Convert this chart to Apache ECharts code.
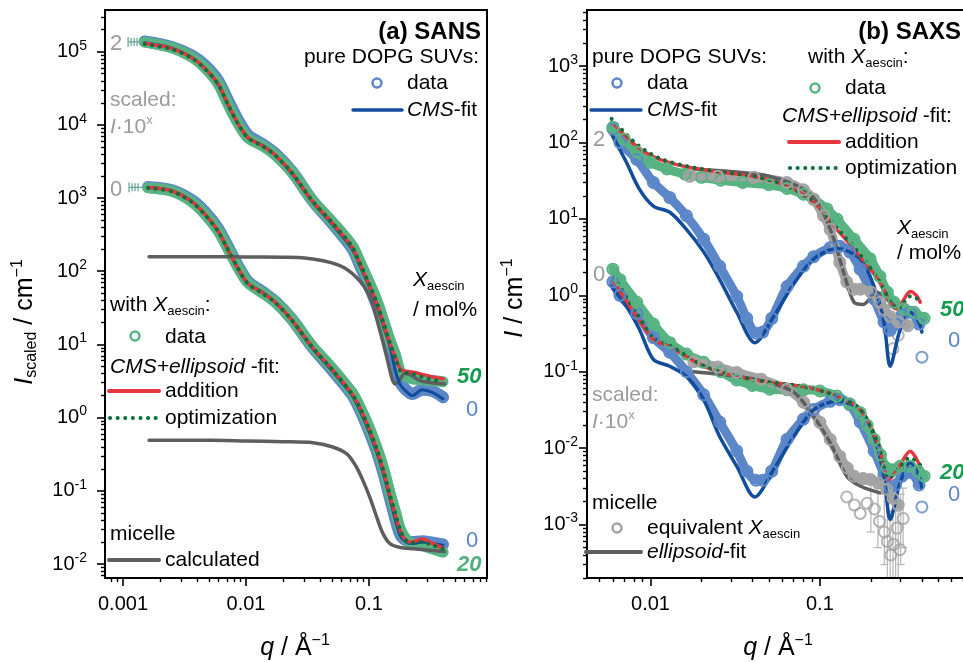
<!DOCTYPE html>
<html><head><meta charset="utf-8">
<script src="https://cdn.jsdelivr.net/npm/echarts@6/dist/echarts.min.js"></script>
<style>html,body{margin:0;padding:0;background:#fff}#c{width:963px;height:662px}</style>
</head><body><div id="c"></div>
<script>
// ---------------- tick labels ----------------
const xMajorA = [0.001, 0.01, 0.1];
const xLabelsA = ['0.001', '0.01', '0.1'];
const yMajorA = [1e-2, 1e-1, 1, 10, 100, 1e3, 1e4, 1e5];
const yExpA = ['-2', '-1', '0', '1', '2', '3', '4', '5'];
const xMajorB = [0.01, 0.1];
const xLabelsB = ['0.01', '0.1'];
const yMajorB = [1e-3, 1e-2, 1e-1, 1, 10, 100, 1e3];
const yExpB = ['-3', '-2', '-1', '0', '1', '2', '3'];

// ---------------- (a) SANS ----------------
const aQ   = [0.0015,0.0025,0.0036,0.0046,0.0059,0.0071,0.0086,0.0104,0.0135,0.0172,0.0237,0.0344,0.050,0.073,0.0845,0.100,0.116,0.133,0.148,0.165,0.180,0.200,0.225,0.27,0.33,0.40];
const aQLo = [0.0016,0.0025,0.0036,0.0046,0.0059,0.0071,0.0086,0.0104,0.0135,0.0172,0.0237,0.0344,0.050,0.073,0.0845,0.100,0.116,0.133,0.148,0.165,0.180,0.200,0.225,0.27,0.33,0.40];
const aUpBlueData  = [1.38e5,1.16e5,8.9e4,6.6e4,4.1e4,2.2e4,1.17e4,7.2e3,5.5e3,4.1e3,2.3e3,940,455,205,120,63,34,17,9.5,4.5,3.0,2.4,2.1,2.4,2.3,1.9];
const aUpGreenData = [1.35e5,1.13e5,8.5e4,6.1e4,3.7e4,1.95e4,1.05e4,6.6e3,5.2e3,3.9e3,2.25e3,950,480,225,135,72,40,20,11.5,7.0,4.2,3.6,3.4,3.3,3.2,3.1];
const aUpBlueFit   = [1.32e5,1.12e5,8.4e4,6.0e4,3.6e4,1.9e4,1.03e4,6.6e3,5.3e3,3.9e3,2.15e3,900,440,200,118,62,33,16.5,9.3,4.2,2.8,2.3,2.0,2.4,2.2,1.8];
const aUpRed       = [1.3e5,1.1e5,8.3e4,6.0e4,3.7e4,1.95e4,1.05e4,6.7e3,5.2e3,3.9e3,2.2e3,920,460,213,126,66,36,18,10.3,6.5,4.6,4.3,4.2,3.9,3.6,3.4];
const aUpDot       = [1.27e5,1.08e5,8.2e4,5.9e4,3.65e4,1.93e4,1.04e4,6.6e3,5.15e3,3.85e3,2.2e3,930,465,216,128,68,37,18.5,10.5,6.3,4.3,4.1,4.0,3.6,3.3,3.1];
const aLoBlueData  = [1420,1280,950,660,390,220,119,72,53,39,22,9.3,4.5,2.05,1.28,0.66,0.34,0.16,0.08,0.04,0.025,0.021,0.020,0.0205,0.0195,0.0185];
const aLoGreenData = [1380,1240,900,610,360,205,113,69,51,38,22,9.6,4.8,2.2,1.4,0.75,0.39,0.19,0.095,0.05,0.03,0.022,0.019,0.018,0.016,0.0145];
const aLoBlueFit   = [1400,1260,910,610,355,198,108,67,52,38,21,9.0,4.4,2.0,1.25,0.65,0.33,0.155,0.078,0.038,0.024,0.020,0.019,0.020,0.019,0.018];
const aLoRed       = [1390,1250,900,610,360,200,110,68,51,38,21.5,9.3,4.6,2.1,1.35,0.70,0.36,0.17,0.085,0.045,0.028,0.021,0.020,0.022,0.019,0.0165];
const aLoDot       = [1370,1230,890,600,355,200,110,67,50,37.5,21.3,9.3,4.6,2.1,1.36,0.71,0.37,0.175,0.088,0.047,0.029,0.021,0.0195,0.020,0.018,0.016];
const aUpMicQ = [0.00163,0.005,0.01,0.02,0.03,0.056,0.080,0.102,0.122,0.140,0.154,0.163,0.18,0.195,0.22,0.26,0.32,0.41];
const aUpMic  = [158,158,157,155,152,122,81,44,16,6.5,3.4,2.9,3.4,4.0,3.8,3.2,3.0,2.9];
const aLoMicQ = [0.00163,0.005,0.01,0.02,0.035,0.05,0.066,0.078,0.089,0.102,0.116,0.13,0.148,0.18,0.23,0.41];
const aLoMic  = [0.49,0.49,0.48,0.47,0.455,0.40,0.32,0.22,0.14,0.08,0.043,0.026,0.019,0.0168,0.0162,0.0148];
// horizontal error bars of the first SANS points
const aErrQLo = [0.00110, 0.00112];
const aErrQHi = [0.0021, 0.0021];
const aErrI   = [1.36e5, 1400];

// ---------------- (b) SAXS ----------------
const bFitQ = [0.00588,0.00721,0.0086,0.0104,0.013,0.0163,0.0206,0.0256,0.0323,0.0413,0.0534,0.0702,0.092,0.126,0.173,0.209,0.239,0.26,0.297,0.341,0.385,0.40];
const bUpBlueFit = [129,55,24.5,14.7,12.2,7.3,3.7,1.62,0.60,0.24,0.53,1.42,3.0,4.1,3.0,1.3,0.44,0.118,0.35,0.60,0.44,0.33];
const bLoBlueFit = [1.31,0.72,0.36,0.145,0.118,0.087,0.043,0.0142,0.0058,0.0023,0.0053,0.0142,0.032,0.041,0.032,0.0142,0.0043,0.00117,0.0035,0.0065,0.0043,0.003];
const bDataQ = [0.006,0.0066,0.0083,0.0104,0.013,0.0163,0.0206,0.0256,0.0323,0.037,0.042,0.046,0.052,0.064,0.080,0.092,0.115,0.131,0.150,0.173,0.209,0.239,0.26,0.28,0.305,0.341,0.385];
const bUpBlueData = [150,100,60,30,19,11,5.4,2.4,0.97,0.5,0.32,0.33,0.5,1.3,2.4,3.2,4.2,4.4,3.7,2.2,0.9,0.45,0.35,0.42,0.55,0.6,0.42];
const bLoBlueData = [1.5,1.0,0.58,0.28,0.18,0.10,0.05,0.022,0.0092,0.005,0.0038,0.0038,0.005,0.013,0.024,0.032,0.041,0.043,0.037,0.022,0.0092,0.0045,0.003,0.0033,0.0043,0.0048,0.0033];
const bGreenUpQ = [0.006,0.007,0.0083,0.010,0.0125,0.016,0.020,0.026,0.035,0.050,0.064,0.080,0.092,0.110,0.126,0.159,0.198,0.226,0.25,0.274,0.314,0.36,0.412];
const bUpGreenData = [158,110,75,55,45,38.5,35,32,30,28,25,21,18,13.5,9.9,5.4,3.0,1.77,1.1,0.81,0.66,0.6,0.5];
const bGreenLoQ = [0.006,0.0066,0.0083,0.0104,0.013,0.0163,0.0206,0.026,0.0323,0.040,0.0506,0.064,0.080,0.100,0.126,0.15,0.173,0.19,0.209,0.228,0.248,0.27,0.297,0.34,0.38,0.412];
const bLoGreenData = [2.2,1.6,0.81,0.42,0.24,0.17,0.133,0.1,0.078,0.066,0.059,0.058,0.058,0.056,0.048,0.038,0.029,0.02,0.013,0.0082,0.0055,0.0052,0.0058,0.0058,0.005,0.0043];
const bRedUpQ = [0.0059,0.0083,0.0113,0.0163,0.0256,0.0407,0.0638,0.092,0.126,0.173,0.226,0.267,0.286,0.31,0.341,0.37,0.391];
const bUpRed  = [185,89,60,48,41,36,27,16.5,7.3,3.24,1.48,0.72,0.66,0.85,1.12,1.0,0.81];
const bUpDot  = [204,95,62,49,41.5,36,27,16.5,7.6,3.4,1.5,0.75,0.65,0.78,0.97,0.92,0.8];
const bRedLoQ = [0.0061,0.0083,0.0104,0.013,0.0206,0.0323,0.0506,0.080,0.126,0.173,0.218,0.245,0.255,0.29,0.341,0.391];
const bLoRed  = [1.48,0.53,0.265,0.214,0.118,0.087,0.072,0.064,0.048,0.032,0.012,0.0045,0.0039,0.0055,0.0091,0.0058];
const bLoDot  = [1.72,0.58,0.28,0.22,0.12,0.088,0.073,0.064,0.048,0.032,0.012,0.0046,0.0041,0.0053,0.0075,0.006];
const bGrayUpQ = [0.017,0.025,0.0407,0.0638,0.080,0.092,0.105,0.115,0.131,0.144,0.159,0.173,0.20,0.226,0.239,0.26,0.29,0.33];
const bUpGrayData = [36,36,35,30,24,18,11,7.3,2.7,1.5,1.2,1.2,1.1,0.81,0.65,0.53,0.45,0.4];
const bGrayLoQ = [0.018,0.025,0.0323,0.045,0.0638,0.080,0.1,0.115,0.131,0.145,0.159,0.18,0.198,0.22,0.248,0.27,0.29];
const bLoGrayData = [0.135,0.115,0.098,0.08,0.059,0.04,0.0218,0.013,0.0078,0.0055,0.0043,0.004,0.0039,0.0035,0.0029,0.0022,0.0018];
const bMicFitUpQ = [0.0179,0.0323,0.0506,0.080,0.0998,0.121,0.138,0.159,0.18,0.217,0.248,0.278];
const bUpMicFit  = [45,41,36,24.5,14.7,5.4,2.0,0.81,0.76,1.1,0.89,0.72];
const bMicFitLoQ = [0.018,0.0323,0.050,0.0702,0.092,0.115,0.144,0.173,0.226];
const bLoMicFit  = [0.10,0.087,0.072,0.054,0.026,0.0118,0.0043,0.0032,0.0026];
const bGrayScatQ = [0.144,0.16,0.173,0.19,0.21,0.225,0.24,0.25,0.262,0.272,0.285,0.297,0.31];
const bGrayScatI = [0.0023,0.0018,0.0014,0.0019,0.0016,0.0011,0.0008,0.0006,0.0004,0.00055,0.0009,0.00047,0.0012];
const bGrayScatUpQ = [0.24,0.255,0.27,0.29,0.31];
const bGrayScatUpI = [0.5,0.35,0.2,0.3,0.45];
const bErrQ  = [0.2,0.22,0.24,0.25,0.26,0.27,0.28,0.29,0.3,0.31];
const bErrLo = [0.0008,0.0005,0.0003,0.0002,0.0002,0.0002,0.0002,0.0002,0.0003,0.0005];
const bErrHi = [0.004,0.003,0.0025,0.002,0.0015,0.0015,0.002,0.002,0.0025,0.003];
const bBlueOutQ = [0.40, 0.40];
const bBlueOutI = [0.155, 0.0017];

// ---------------- styling ----------------
const FONT = '"Liberation Sans", Arial, sans-serif';
const C = {blueData:'#5b87c9', blueFit:'#124c9c', greenData:'#57b381', red:'#e6373f', greenDot:'#0b6e3b',
           grayLine:'#5e5e5e', grayData:'#a3a3a3', txtGray:'#9b9b9b', green:'#179b51', greenLight:'#52b07e'};

const P = (q, I) => q.map((x, i) => [x, I[i]]);
function band(q, I, color, g, width, circles) {
  return {type:'line', xAxisIndex:g*2, yAxisIndex:g*2, data:P(q, I), smooth:0.3, silent:true,
    lineStyle:{color, width, cap:'round', join:'round'},
    showSymbol:!!circles, showAllSymbol:true, symbol:'circle', symbolSize:circles || 0,
    itemStyle:{color:'rgba(0,0,0,0)', borderColor:color, borderWidth:2}};
}
function curve(q, I, color, g, width, dotted) {
  return {type:'line', xAxisIndex:g*2, yAxisIndex:g*2, data:P(q, I), smooth:0.3, silent:true,
    showSymbol:false, symbol:'none',
    lineStyle:{color, width, type:dotted ? [0.1, 7.5] : 'solid', cap:'round', join:'round'}};
}
function scat(q, I, color, g, size) {
  return {type:'scatter', xAxisIndex:g*2, yAxisIndex:g*2, data:P(q, I), symbol:'circle', symbolSize:size, silent:true,
    itemStyle:{color:'rgba(0,0,0,0)', borderColor:color, borderWidth:2}};
}
function minorTicks(lo, hi) {
  const out = [];
  for (let e = Math.floor(Math.log10(lo)); e <= Math.ceil(Math.log10(hi)); e++)
    for (let m = 2; m <= 9; m++) { const v = +(m * Math.pow(10, e)).toPrecision(6); if (v >= lo && v <= hi) out.push(v); }
  return out;
}
const near = (a, b) => Math.abs(Math.log10(a) - Math.log10(b)) < 1e-6;
const supFmt = (majors, exps) => v => { const i = majors.findIndex(t => near(t, v)); return i < 0 ? '' : '10{s|' + exps[i] + '}'; };
const txtFmt = (majors, labels) => v => { const i = majors.findIndex(t => near(t, v)); return i < 0 ? '' : labels[i]; };

function majorAxis(dim, g, min, max, ticks, fmt, margin) {
  return {type:'log', logBase:10, gridIndex:g, min, max, position:dim === 'x' ? 'bottom' : 'left',
    axisLine:{show:true, onZero:false, lineStyle:{color:'#000', width:2}},
    axisTick:{show:true, inside:false, length:8, customValues:ticks, lineStyle:{color:'#000', width:1.6}},
    axisLabel:{show:true, customValues:ticks, formatter:fmt, margin, fontSize:20, fontFamily:FONT, color:'#000',
      hideOverlap:false, showMinLabel:true, showMaxLabel:true,
      rich:{s:{fontSize:14, fontFamily:FONT, color:'#000', padding:[0, 0, 12, 0]}}},
    splitLine:{show:false}, minorTick:{show:false}, minorSplitLine:{show:false}, z:5};
}
function minorAxis(dim, g, min, max) {
  return {type:'log', logBase:10, gridIndex:g, min, max, position:dim === 'x' ? 'bottom' : 'left',
    axisLine:{show:false}, axisLabel:{show:false}, splitLine:{show:false},
    axisTick:{show:true, inside:false, length:4, customValues:minorTicks(min, max), lineStyle:{color:'#000', width:1.4}}, z:5};
}
const RA = {xmin:7.14e-4, xmax:0.911, ymin:6.44e-3, ymax:3.71e5};
const RB = {xmin:4.22e-3, xmax:0.7186, ymin:2.0e-4, ymax:5410};

// ---------------- text helpers ----------------
function rich(b) {
  const s = Math.round(b * 0.64);
  return {
    i:{fontSize:b, fontFamily:FONT, fontStyle:'italic'},
    b:{fontSize:b, fontFamily:FONT, fontWeight:'bold'},
    sub:{fontSize:s, fontFamily:FONT, padding:[Math.round(b * 0.55), 0, 0, 0]},
    sup:{fontSize:s, fontFamily:FONT, padding:[0, 0, Math.round(b * 0.6), 0]}
  };
}
function T(x, y, text, o) {
  o = o || {};
  const b = o.size || 21;
  const st = {text, fontSize:b, fontFamily:FONT, fill:o.color || '#000', align:o.align || 'left', verticalAlign:'middle',
              fontWeight:o.weight || 'normal', fontStyle:o.style || 'normal', rich:rich(b)};
  const el = {type:'text', x, y, silent:true, z:100, style:st};
  if (o.rot) el.rotation = o.rot;
  return el;
}
const circ = (cx, cy, color) => ({type:'circle', silent:true, z:100, shape:{cx, cy, r:4.5}, style:{fill:'none', stroke:color, lineWidth:2.5}});
const seg = (x1, x2, y, color, w, dotted) => ({type:'line', silent:true, z:100, shape:{x1, y1:y, x2, y2:y},
  style:{stroke:color, lineWidth:w, lineCap:'round', lineDash:dotted ? [0.1, 7.5] : null}});

const graphics = [
  // panel (a)
  T(481, 32, '(a) SANS', {size:24, weight:'bold', align:'right'}),
  T(479, 57, 'pure DOPG SUVs:', {align:'right'}),
  circ(377, 83, C.blueData), T(407, 83, 'data'),
  seg(353, 402, 110, C.blueFit, 3.5), T(407, 110, '{i|CMS}-fit'),
  T(110, 44, '2', {size:22, color:C.txtGray}),
  T(110, 190, '0', {size:22, color:C.txtGray}),
  T(110, 100, 'scaled:', {color:C.txtGray}),
  T(110, 127, '{i|I}·10{sup|x}', {color:C.txtGray}),
  T(110, 305, 'with {i|X}{sub|aescin}:'),
  circ(135, 336, C.greenData), T(165, 337, 'data'),
  T(110, 367, '{i|CMS+ellipsoid} -fit:'),
  seg(109, 159, 391, C.red, 4), T(165, 391, 'addition'),
  seg(110, 156, 418, C.greenDot, 4, true), T(165, 418, 'optimization'),
  T(110, 534, 'micelle'),
  seg(109, 159, 560, C.grayLine, 4), T(165, 560, 'calculated'),
  T(413, 280, '{i|X}{sub|aescin}'),
  T(413, 310, '/ mol%'),
  T(457, 377, '50', {size:22, weight:'bold', style:'italic', color:C.green}),
  T(466, 410, '0', {size:22, color:C.blueData}),
  T(466, 541, '0', {size:22, color:C.blueData}),
  T(457, 565, '20', {size:22, weight:'bold', style:'italic', color:C.greenLight}),
  // panel (b)
  T(961, 32, '(b) SAXS', {size:24, weight:'bold', align:'right'}),
  T(592, 57, 'pure DOPG SUVs:'),
  circ(617, 83, C.blueData), T(647, 83, 'data'),
  seg(591, 641, 110, C.blueFit, 3.5), T(647, 110, '{i|CMS}-fit'),
  T(808, 57, 'with {i|X}{sub|aescin}:'),
  circ(815, 88, C.greenData), T(845, 88, 'data'),
  T(782, 116, '{i|CMS+ellipsoid} -fit:'),
  seg(789, 839, 142, C.red, 4), T(845, 142, 'addition'),
  seg(790, 836, 168, C.greenDot, 4, true), T(845, 168, 'optimization'),
  T(897, 228, '{i|X}{sub|aescin}'),
  T(897, 253, '/ mol%'),
  T(940, 310, '50', {size:22, weight:'bold', style:'italic', color:C.green}),
  T(948, 341, '0', {size:22, color:C.blueData}),
  T(593, 140, '2', {size:22, color:C.txtGray}),
  T(593, 275, '0', {size:22, color:C.txtGray}),
  T(592, 395, 'scaled:', {color:C.txtGray}),
  T(592, 422, '{i|I}·10{sup|x}', {color:C.txtGray}),
  T(940, 473, '20', {size:22, weight:'bold', style:'italic', color:C.green}),
  T(948, 495, '0', {size:22, color:C.blueData}),
  T(592, 503, 'micelle'),
  circ(617, 528, C.grayData), T(647, 528, 'equivalent {i|X}{sub|aescin}'),
  seg(586, 641, 552, C.grayLine, 4), T(647, 552, '{i|ellipsoid}-fit'),
  // axis titles
  T(25, 322, '{i|I}{sub|scaled} / cm{sup|−1}', {size:25, align:'center', rot:Math.PI / 2}),
  T(515, 298, '{i|I} / cm{sup|−1}', {size:25, align:'center', rot:Math.PI / 2}),
  T(295, 648, '{i|q} / Å{sup|−1}', {size:25, align:'center'}),
  T(778, 648, '{i|q} / Å{sup|−1}', {size:25, align:'center'})
];

function hErr(g, color) {
  return {type:'custom', xAxisIndex:g*2, yAxisIndex:g*2, clip:true, silent:true,
   data:aErrQLo.map((q, i) => [q, aErrQHi[i], aErrI[i]]), encode:{x:[0, 1], y:2},
   renderItem:(params, api) => {
     const p1 = api.coord([api.value(0), api.value(2)]), p2 = api.coord([api.value(1), api.value(2)]);
     const st = {stroke:color, lineWidth:1.3};
     const kids = [{type:'line', shape:{x1:p1[0], y1:p1[1], x2:p2[0], y2:p2[1]}, style:st},
                   {type:'line', shape:{x1:p1[0], y1:p1[1] - 5, x2:p1[0], y2:p1[1] + 5}, style:st}];
     for (let k = 1; k <= 3; k++) { const xx = p1[0] + k * 3; kids.push({type:'line', shape:{x1:xx, y1:p1[1] - 4, x2:xx, y2:p1[1] + 4}, style:st}); }
     return {type:'group', children:kids};
   }};
}

const series = [
  hErr(0, '#6aaa96'),
  // (a) SANS upper (x10^2)
  band(aQ, aUpBlueData, C.blueData, 0, 12),
  band(aQ, aUpGreenData, C.greenData, 0, 11),
  // (a) lower (x10^0)
  band(aQLo, aLoBlueData, C.blueData, 0, 12),
  band(aQLo, aLoGreenData, C.greenData, 0, 11),
  curve(aUpMicQ, aUpMic, C.grayLine, 0, 3.5),
  curve(aLoMicQ, aLoMic, C.grayLine, 0, 3.5),
  curve(aQ, aUpBlueFit, C.blueFit, 0, 3),
  curve(aQLo, aLoBlueFit, C.blueFit, 0, 3),
  curve(aQ, aUpRed, C.red, 0, 3.5),
  curve(aQLo, aLoRed, C.red, 0, 3.5),
  curve(aQ, aUpDot, C.greenDot, 0, 4, true),
  curve(aQLo, aLoDot, C.greenDot, 0, 4, true),
  // (b) SAXS
  {type:'custom', xAxisIndex:2, yAxisIndex:2, clip:true, silent:true,
   data:bErrQ.map((q, i) => [q, bErrLo[i], bErrHi[i]]), encode:{x:0, y:[1, 2]},
   renderItem:(params, api) => {
     const q = api.value(0), p1 = api.coord([q, api.value(1)]), p2 = api.coord([q, api.value(2)]);
     const st = {stroke:'#b5b5b5', lineWidth:1.2};
     return {type:'group', children:[
       {type:'line', shape:{x1:p1[0], y1:p1[1], x2:p2[0], y2:p2[1]}, style:st},
       {type:'line', shape:{x1:p1[0] - 4, y1:p1[1], x2:p1[0] + 4, y2:p1[1]}, style:st},
       {type:'line', shape:{x1:p2[0] - 4, y1:p2[1], x2:p2[0] + 4, y2:p2[1]}, style:st}]};
   }},
  band(bDataQ, bUpBlueData, C.blueData, 1, 9, 11),
  band(bDataQ, bLoBlueData, C.blueData, 1, 9, 11),
  band(bGreenUpQ, bUpGreenData, C.greenData, 1, 9, 11),
  band(bGreenLoQ, bLoGreenData, C.greenData, 1, 9, 11),
  band(bGrayUpQ, bUpGrayData, C.grayData, 1, 9, 11),
  band(bGrayLoQ, bLoGrayData, C.grayData, 1, 9, 11),
  scat(bGrayScatQ, bGrayScatI, C.grayData, 1, 11),
  scat(bGrayScatUpQ, bGrayScatUpI, C.grayData, 1, 11),
  scat(bBlueOutQ, bBlueOutI, C.blueData, 1, 11),
  curve(bMicFitUpQ, bUpMicFit, C.grayLine, 1, 3.5),
  curve(bMicFitLoQ, bLoMicFit, C.grayLine, 1, 3.5),
  curve(bFitQ, bUpBlueFit, C.blueFit, 1, 3.5),
  curve(bFitQ, bLoBlueFit, C.blueFit, 1, 3.5),
  curve(bRedUpQ, bUpRed, C.red, 1, 3.5),
  curve(bRedLoQ, bLoRed, C.red, 1, 3.5),
  curve(bRedUpQ, bUpDot, C.greenDot, 1, 4, true),
  curve(bRedLoQ, bLoDot, C.greenDot, 1, 4, true)
];

const chart = echarts.init(document.getElementById('c'), null, {renderer:'canvas'});
chart.setOption({
  animation:false,
  backgroundColor:'#fff',
  grid:[
    {left:105, top:10, width:382, height:568, show:true, borderColor:'#000', borderWidth:2, backgroundColor:'rgba(0,0,0,0)', containLabel:false, outerBoundsMode:'none'},
    {left:587, top:10, width:378, height:568, show:true, borderColor:'#000', borderWidth:2, backgroundColor:'rgba(0,0,0,0)', containLabel:false, outerBoundsMode:'none'}
  ],
  xAxis:[
    majorAxis('x', 0, RA.xmin, RA.xmax, xMajorA, txtFmt(xMajorA, xLabelsA), 16),
    minorAxis('x', 0, RA.xmin, RA.xmax),
    majorAxis('x', 1, RB.xmin, RB.xmax, xMajorB, txtFmt(xMajorB, xLabelsB), 16),
    minorAxis('x', 1, RB.xmin, RB.xmax)
  ],
  yAxis:[
    majorAxis('y', 0, RA.ymin, RA.ymax, yMajorA, supFmt(yMajorA, yExpA), 18),
    minorAxis('y', 0, RA.ymin, RA.ymax),
    majorAxis('y', 1, RB.ymin, RB.ymax, yMajorB, supFmt(yMajorB, yExpB), 9),
    minorAxis('y', 1, RB.ymin, RB.ymax)
  ],
  series,
  graphic:graphics
});
</script>
</body></html>
